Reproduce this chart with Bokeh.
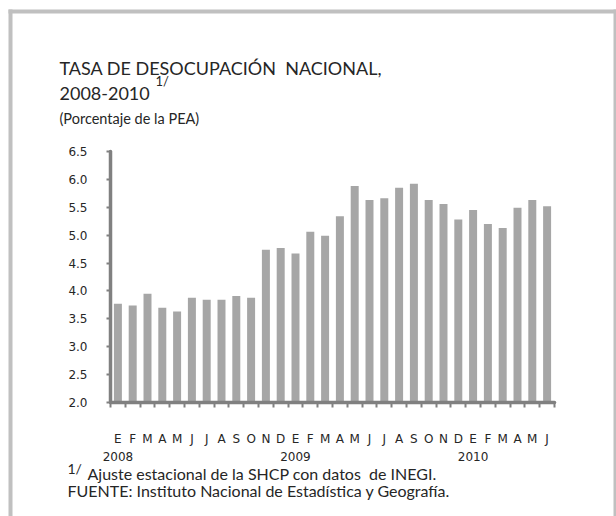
from bokeh.plotting import figure
from bokeh.models import (Range1d, FixedTicker, LinearAxis, Label, BoxAnnotation,
                          ColumnDataSource)
from bokeh.embed import file_html
from bokeh.resources import INLINE

# ---------------- data ----------------
months = ["E", "F", "M", "A", "M", "J", "J", "A", "S", "O", "N", "D",
          "E", "F", "M", "A", "M", "J", "J", "A", "S", "O", "N", "D",
          "E", "F", "M", "A", "M", "J"]
years = ["2008", "2009", "2010"]
year_start_index = [0, 12, 24]
rate = [3.77, 3.74, 3.95, 3.70, 3.63, 3.88, 3.84, 3.84, 3.91, 3.88, 4.74, 4.77,
        4.67, 5.06, 4.99, 5.34, 5.88, 5.63, 5.66, 5.85, 5.92, 5.63, 5.56, 5.28,
        5.45, 5.20, 5.13, 5.49, 5.63, 5.52]
y_ticks = [2.0, 2.5, 3.0, 3.5, 4.0, 4.5, 5.0, 5.5, 6.0, 6.5]

title1 = "TASA DE DESOCUPACIÓN\u00a0 NACIONAL,"
title2 = "2008-2010"
subtitle = "(Porcentaje de la PEA)"
note_mark = "1/"
note = "Ajuste estacional de la SHCP con datos\u00a0 de INEGI."
source = "FUENTE: Instituto Nacional de Estadística y Geografía."

# ---------------- layout (canvas pixels) ----------------
W, H = 616, 516
PX_L, PX_R = 110, 554      # pixel x of category 0 and of category 30
PY_B, PY_T = 402, 151      # pixel y of 2.0 and of 6.5
N = len(rate)
Y0, Y1 = y_ticks[0], y_ticks[-1]

sx = (PX_R - PX_L) / N
sy = (PY_B - PY_T) / (Y1 - Y0)
x_range = Range1d(-PX_L / sx, N + (W - PX_R) / sx)
y_range = Range1d(Y0 - (H - PY_B) / sy, Y1 + PY_T / sy)

AXIS_COL = "#808080"
BAR_COL = "#a6a6a6"
TXT_COL = "#262626"
TXT_FONT = "Lato"
TICK_FONT = "DejaVu Sans"

p = figure(width=W, height=H, min_border=0,
           min_border_left=0, min_border_right=0, min_border_top=0, min_border_bottom=0,
           x_range=x_range, y_range=y_range,
           output_backend="svg", toolbar_location=None,
           x_axis_type=None, y_axis_type=None)
p.outline_line_color = None
p.grid.visible = False
p.background_fill_color = "white"
p.border_fill_color = "white"

xs = [i + 0.5 for i in range(N)]
src = ColumnDataSource(dict(x=xs, top=rate))
p.vbar(x="x", top="top", bottom=Y0, width=0.54, source=src,
       fill_color=BAR_COL, line_color=None)

# y axis (fixed at category 0)
yax = LinearAxis(ticker=FixedTicker(ticks=y_ticks), fixed_location=0, bounds=(Y0, Y1))
yax.major_label_overrides = {t: f"{t:.1f}" for t in y_ticks}
yax.axis_line_color = AXIS_COL
yax.axis_line_width = 3.5
yax.axis_line_cap = "round"
yax.major_tick_line_color = AXIS_COL
yax.major_tick_line_width = 2
yax.major_tick_out = 4
yax.major_tick_in = 0
yax.minor_tick_line_color = None
yax.major_label_standoff = 19
yax.major_label_text_font = TICK_FONT
yax.major_label_text_font_size = "12px"
yax.major_label_text_color = TXT_COL
p.add_layout(yax, "left")

# x axis: month letters at bar centres, tick marks at category boundaries
xax = LinearAxis(ticker=FixedTicker(ticks=xs, minor_ticks=list(range(N + 1))),
                 fixed_location=Y0, bounds=(0, N))
xax.major_label_overrides = {x: m for x, m in zip(xs, months)}
xax.axis_line_color = AXIS_COL
xax.axis_line_width = 3.5
xax.axis_line_cap = "round"
xax.major_tick_line_color = None
xax.major_tick_out = 0
xax.major_tick_in = 0
xax.minor_tick_line_color = AXIS_COL
xax.minor_tick_line_width = 2
xax.minor_tick_out = 5
xax.minor_tick_in = 0
xax.major_label_standoff = 24
xax.major_label_text_font = TICK_FONT
xax.major_label_text_font_size = "12px"
xax.major_label_text_color = TXT_COL
p.add_layout(xax, "below")

# year axis
yr_x = [year_start_index[k] + 0.5 for k in range(len(years))]
yrax = LinearAxis(ticker=FixedTicker(ticks=yr_x), fixed_location=Y0, bounds=(0, N))
yrax.major_label_overrides = {x: y for x, y in zip(yr_x, years)}
yrax.axis_line_color = None
yrax.major_tick_line_color = None
yrax.minor_tick_line_color = None
yrax.major_tick_out = 0
yrax.major_tick_in = 0
yrax.major_label_standoff = 49
yrax.major_label_text_font = TICK_FONT
yrax.major_label_text_font_size = "12px"
yrax.major_label_text_color = TXT_COL
p.add_layout(yrax, "below")


def add_text(txt, px, py, size, font=TXT_FONT):
    p.add_layout(Label(x=px, y=H - py, x_units="screen", y_units="screen",
                       text=txt, text_font=font, text_font_size=size,
                       text_color=TXT_COL, text_baseline="alphabetic",
                       text_align="left"))


add_text(title1, 59, 67, "18px")
add_text(title2, 59, 93, "18px")
add_text(note_mark, 155, 80, "13px")
add_text(subtitle, 59, 118, "14.5px")
add_text(note_mark, 67, 468, "14px")
add_text(note, 87, 473, "16px")
add_text(source, 67, 490, "16px")

# outer grey frame: left 8-12, top 9-13, right 613-616 (pixels)
BORDER = "#c0c0c0"
for (l, r, t, b) in [(8, 12, 9, H + 5), (8, W + 5, 9, 13), (613, W + 5, 9, H + 5)]:
    p.add_layout(BoxAnnotation(left=l, right=r, top=H - t, bottom=H - b,
                               left_units="screen", right_units="screen",
                               top_units="screen", bottom_units="screen",
                               fill_color=BORDER, fill_alpha=1.0,
                               line_color=None, level="overlay"))

open("out.html", "w").write(file_html(p, INLINE))
